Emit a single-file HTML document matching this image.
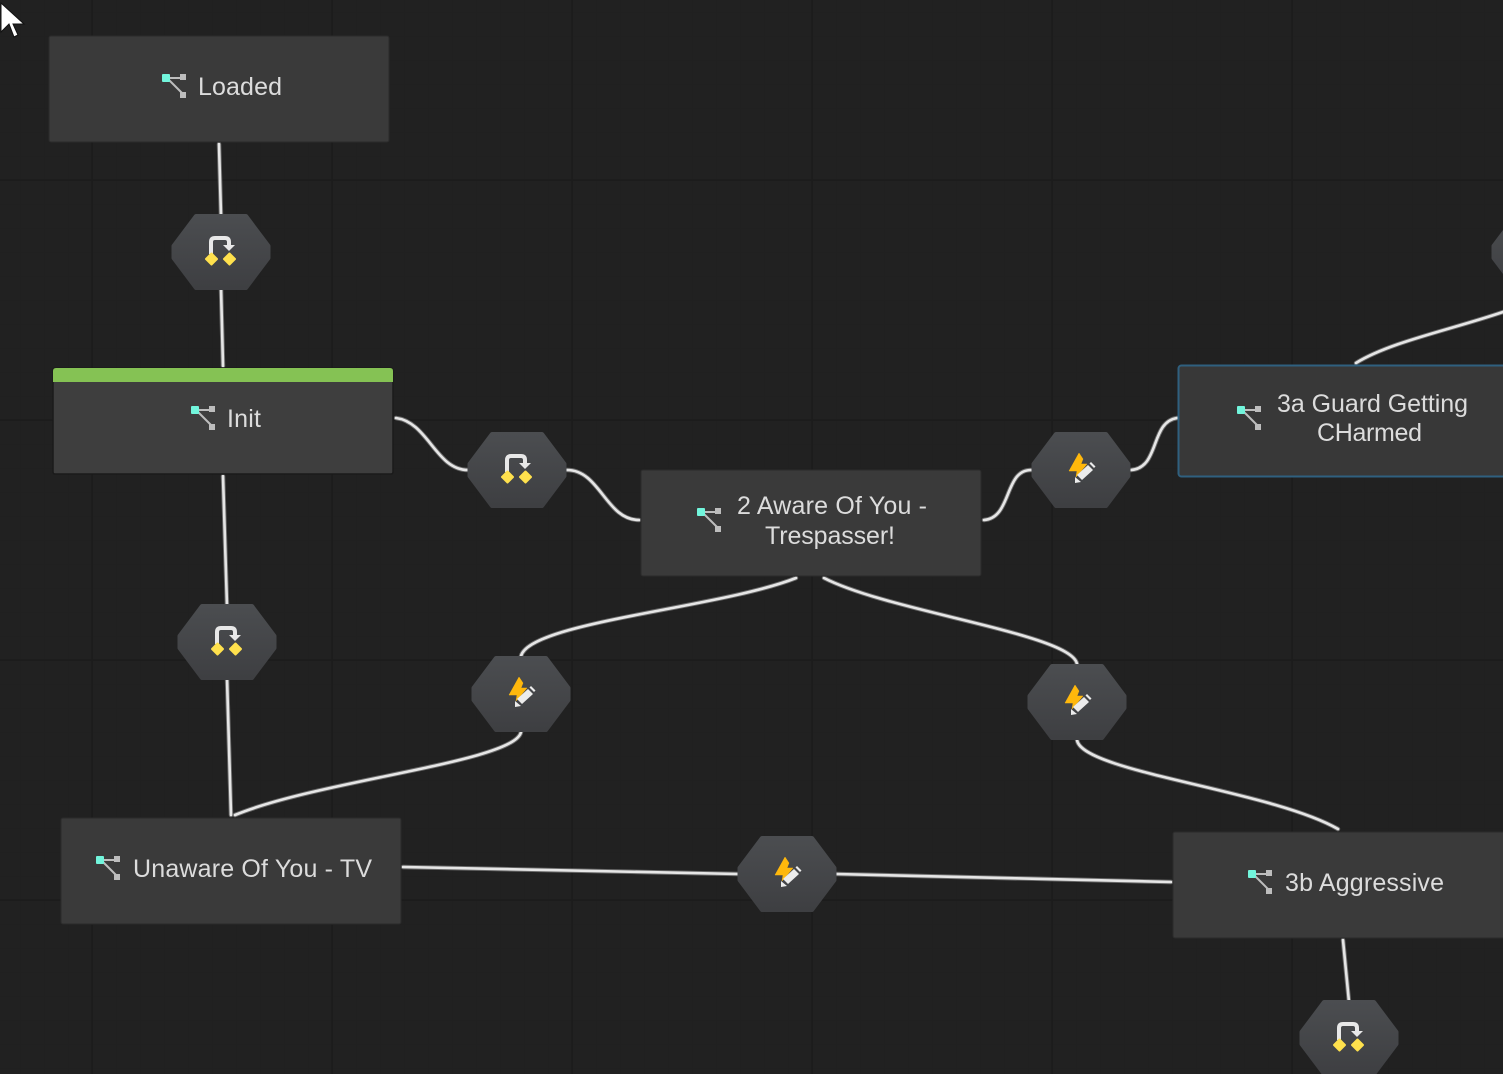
<!DOCTYPE html>
<html><head><meta charset="utf-8"><style>
html,body{margin:0;padding:0;background:#212121}
svg{display:block}
text{font-family:"Liberation Sans",sans-serif;font-size:25px;fill:#dcdcdc}
</style></head><body>
<svg width="1503" height="1074" viewBox="0 0 1503 1074" xmlns="http://www.w3.org/2000/svg">
<defs>
<linearGradient id="hx" x1="0" y1="0" x2="0" y2="1"><stop offset="0" stop-color="#4b4d50"/><stop offset="1" stop-color="#3e3f42"/></linearGradient>
<pattern id="minor" width="24" height="24" patternUnits="userSpaceOnUse" x="20.500" y="12.500"><path d="M0 0V24M0 0H24" stroke="#1f1f1f" stroke-width="1" fill="none"/></pattern>
<g id="hex"><path d="M-25 -36H25L47.500 -6V6L25 36H-25L-47.500 6V-6Z" fill="url(#hx)" stroke="url(#hx)" stroke-width="4" stroke-linejoin="round"/></g>
<g id="loop"><use href="#hex"/>
<path d="M-10 2V-10Q-10 -14 -6 -14H4Q8 -14 8 -10V-6" fill="none" stroke="#e8e8e8" stroke-width="4"/>
<path d="M2 -7H14L8 -1Z" fill="#e8e8e8"/>
<path d="M-9.500 1.500L-4 7L-9.500 12.500L-15 7Z M8.500 1.500L14 7L8.500 12.500L3 7Z" fill="#ffe14d" stroke="#ffe14d" stroke-width="2" stroke-linejoin="round"/></g>
<g id="bolt"><use href="#hex"/>
<path d="M-2 -17L-12 1L-4 1L-5 7L6 -6L0 -6L2 -11Z" fill="#ffb80c" stroke="#ffb80c" stroke-width="0.5" stroke-linejoin="round"/>
<path d="M-4 5L7 -5L12 0L1 10Z" fill="#ececec"/>
<path d="M8.500 -6.500L10 -8L14.500 -3.500L13 -2Z" fill="#ececec"/>
<path d="M-6 13L-6 7L0 12Z" fill="#ececec"/></g>
<g id="ic"><path d="M5 4H21M5 4L22 21" stroke="#bdbdbd" stroke-width="2" fill="none"/><rect x="0" y="0" width="8" height="8" rx="1" fill="#72f5dc"/><rect x="18" y="0" width="6" height="6" fill="#bdbdbd"/><rect x="18" y="18" width="6" height="6" fill="#bdbdbd"/></g>
<g id="node"><rect x="0" y="0" width="340" height="106" rx="2" fill="#3a3a3a" stroke="#2b2b2b" stroke-width="1"/></g>
<g id="wires" fill="none" stroke-linecap="round">
<path d="M219 144L221 216"/>
<path d="M221 288L223 366"/>
<path d="M396 418C428 422 436 470 468 470"/>
<path d="M567 470C600 470 606 520 639 520"/>
<path d="M984 520C1012 518 1004 470 1031 470"/>
<path d="M1131 470C1160 468 1150 422 1177 418"/>
<path d="M223 476L227 606"/>
<path d="M227 678L231 815"/>
<path d="M796 578C720 608 530 622 521 656"/>
<path d="M521 732C515 762 320 780 235 815"/>
<path d="M824 578C890 612 1072 634 1077 664"/>
<path d="M1077 740C1082 772 1270 790 1338 829"/>
<path d="M403 867L738 874"/>
<path d="M836 874L1171 882"/>
<path d="M1343 940L1349 1002"/>
<path d="M1356 363C1390 342 1450 330 1503 312"/>
</g>
</defs>
<rect width="1503" height="1074" fill="#212121"/>
<rect width="1503" height="1074" fill="url(#minor)"/>
<path d="M92 0V1074M332 0V1074M572 0V1074M812 0V1074M1052 0V1074M1292 0V1074M0 180H1503M0 420H1503M0 660H1503M0 900H1503" stroke="#1c1c1c" stroke-width="1.500" fill="none"/>

<use href="#wires" stroke="#6a6a6a" stroke-width="4.500"/>
<use href="#wires" stroke="#e6e6e6" stroke-width="2.600"/>

<use href="#node" x="49" y="36"/>
<rect x="53" y="368" width="340" height="106" rx="2" fill="#3e3e3e" stroke="#1a1a1a" stroke-width="1.500"/>
<path d="M53 382V371Q53 368 56 368H390Q393 368 393 371V382Z" fill="#85c254"/>
<use href="#node" x="641" y="470"/>
<use href="#node" x="61" y="818"/>
<use href="#node" x="1173" y="832"/>
<rect x="1178.500" y="365.500" width="340" height="111" rx="3" fill="#383838" stroke="#2f607f" stroke-width="2"/>

<use href="#ic" x="162" y="74"/><text x="198" y="95" textLength="84">Loaded</text>
<use href="#ic" x="191" y="406"/><text x="227" y="427" textLength="34">Init</text>
<use href="#ic" x="697" y="508"/><text x="737" y="514" textLength="190">2 Aware Of You -</text><text x="765" y="544" textLength="130">Trespasser!</text>
<use href="#ic" x="1237" y="406"/><text x="1277" y="412" textLength="191">3a Guard Getting</text><text x="1317" y="441" textLength="105">CHarmed</text>
<use href="#ic" x="96" y="856"/><text x="133" y="877" textLength="239">Unaware Of You - TV</text>
<use href="#ic" x="1248" y="870"/><text x="1285" y="891" textLength="159">3b Aggressive</text>

<use href="#loop" x="221" y="252"/>
<use href="#loop" x="517" y="470"/>
<use href="#loop" x="227" y="642"/>
<use href="#loop" x="1349" y="1038"/>
<use href="#bolt" x="1081" y="470"/>
<use href="#bolt" x="521" y="694"/>
<use href="#bolt" x="1077" y="702"/>
<use href="#bolt" x="787" y="874"/>
<use href="#hex" x="1541" y="252"/>

<path d="M1 3V32L9 24L14 37L18 35L13 24H24Z" fill="#fff" stroke="#111" stroke-width="1"/>
</svg>
</body></html>
